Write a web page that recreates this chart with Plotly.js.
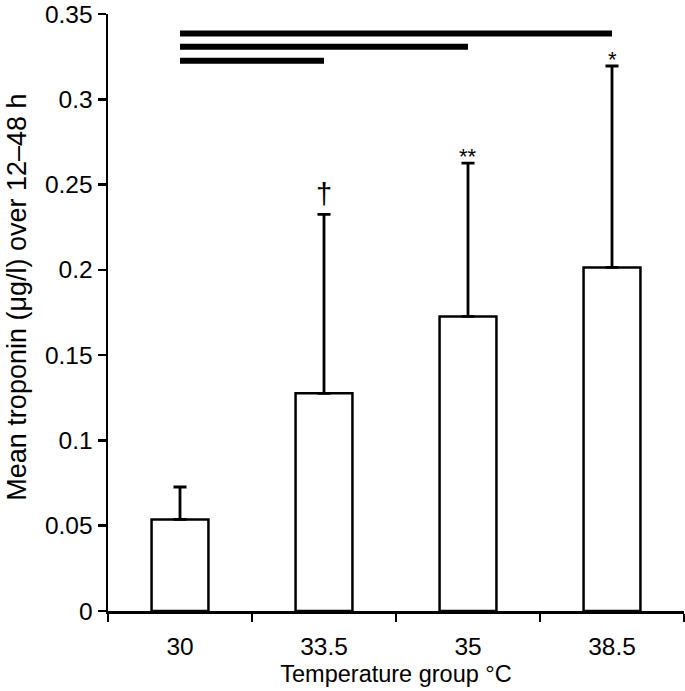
<!DOCTYPE html>
<html>
<head>
<meta charset="utf-8">
<script src="https://cdn.plot.ly/plotly-3.0.1.min.js"></script>
<style>html,body{margin:0;padding:0;background:#fff;}#chart{width:685px;height:691px;}</style>
</head>
<body>
<div id="chart"></div>
<script>
// Data
const categories = ['30', '33.5', '35', '38.5'];
const meanTroponin = [0.0537, 0.1276, 0.1727, 0.2014];
const errorUpper = [0.0727, 0.2325, 0.2626, 0.3195];   // top of each error bar
const markLabels = ['', '†', '**', '*'];
const sigFrom = ['30', '30', '30'];
const sigTo = ['38.5', '35', '33.5'];
const sigLevel = [0.3386, 0.3308, 0.3226];
const yTickVals = [0, 0.05, 0.1, 0.15, 0.2, 0.25, 0.3, 0.35];
const yTickText = ['0', '0.05', '0.1', '0.15', '0.2', '0.25', '0.3', '0.35'];

const font = 'Liberation Sans, Arial, Helvetica, sans-serif';

const traces = [{
  type: 'bar',
  x: categories,
  y: meanTroponin,
  width: 0.395,
  marker: {color: '#ffffff', line: {color: '#000000', width: 2.5}},
  error_y: {
    type: 'data',
    symmetric: false,
    array: errorUpper.map((e, i) => e - meanTroponin[i]),
    arrayminus: meanTroponin.map(() => 0),
    color: '#000000',
    thickness: 2.8,
    width: 6.5
  },
  cliponaxis: false,
  hoverinfo: 'skip'
}];

for (let i = 0; i < sigLevel.length; i++) {
  traces.push({
    type: 'scatter',
    mode: 'lines',
    x: [sigFrom[i], sigTo[i]],
    y: [sigLevel[i], sigLevel[i]],
    line: {color: '#000000', width: 6},
    cliponaxis: false,
    hoverinfo: 'skip'
  });
}

const annotations = [];
markLabels.forEach((t, i) => {
  if (!t) return;
  const isDagger = t.indexOf('†') >= 0;
  annotations.push({
    xref: 'x', yref: 'y',
    x: i,
    y: errorUpper[i],
    yanchor: 'middle',
    yshift: isDagger ? 20 : 7,
    text: t,
    showarrow: false,
    font: {family: font, size: isDagger ? 29 : 22, color: '#000'}
  });
});

// y-axis title placed as rotated annotation to match reference position
annotations.push({
  xref: 'paper', yref: 'paper',
  x: -0.158, y: 0.5265,
  xanchor: 'center', yanchor: 'middle',
  textangle: -90,
  text: 'Mean troponin (μg/l) over 12–48 h',
  showarrow: false,
  font: {family: font, size: 27, color: '#000'}
});

const layout = {
  width: 685,
  height: 691,
  margin: {l: 108, r: 1, t: 14, b: 80},
  paper_bgcolor: '#ffffff',
  plot_bgcolor: '#ffffff',
  showlegend: false,
  font: {family: font, color: '#000', size: 24},
  xaxis: {
    type: 'category',
    range: [-0.5, 3.5],
    tickson: 'boundaries',
    ticks: 'outside',
    ticklen: 8,
    tickwidth: 2.5,
    tickcolor: '#000',
    showline: true,
    linecolor: '#000',
    linewidth: 2.5,
    showgrid: false,
    zeroline: false,
    automargin: false,
    ticklabelstandoff: 12,
    tickfont: {family: font, size: 24.5, color: '#000'},
    title: {text: 'Temperature group °C', font: {family: font, size: 23.5, color: '#000'}, standoff: 7}
  },
  yaxis: {
    range: [0, 0.35],
    tickvals: yTickVals,
    ticktext: yTickText,
    ticks: 'outside',
    ticklen: 8,
    tickwidth: 2.5,
    tickcolor: '#000',
    showline: true,
    linecolor: '#000',
    linewidth: 2.5,
    showgrid: false,
    zeroline: false,
    automargin: false,
    ticklabelstandoff: 0,
    tickfont: {family: font, size: 24.5, color: '#000'}
  },
  annotations: annotations
};

Plotly.newPlot('chart', traces, layout, {displayModeBar: false, staticPlot: true});
</script>
</body>
</html>
